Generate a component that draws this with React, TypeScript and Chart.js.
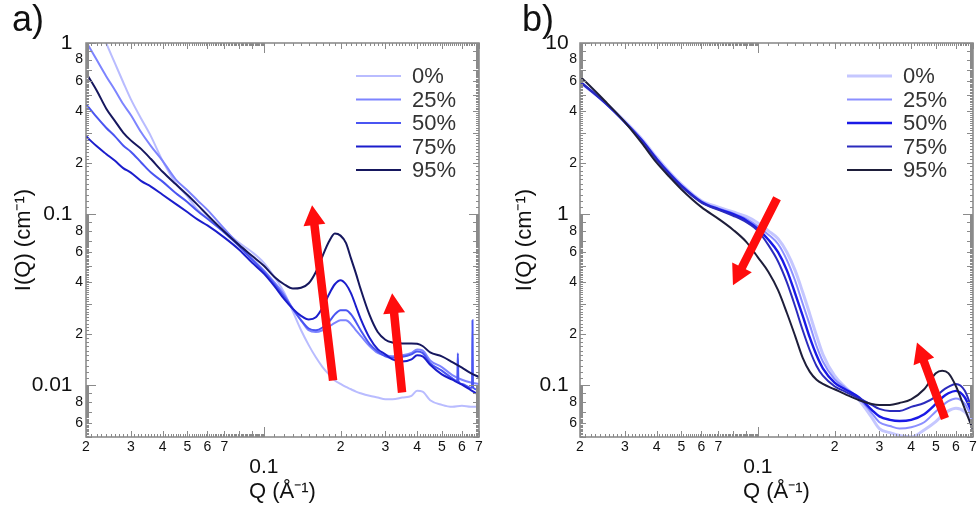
import React, { useEffect, useRef } from "react";
import { Chart, registerables } from "chart.js";
Chart.register(...registerables);

const FONT = "'Liberation Sans', Arial, Helvetica, sans-serif";
const SERIES_LABELS = ["0%", "25%", "50%", "75%", "95%"];

// ---------- Panel a) ----------
const Q_A = [0.02, 0.022, 0.024, 0.026, 0.028, 0.03, 0.033, 0.036, 0.04, 0.045, 0.05, 0.055, 0.06, 0.07, 0.08, 0.09, 0.1, 0.11, 0.12, 0.13, 0.14, 0.15, 0.16, 0.17, 0.18, 0.19, 0.2, 0.21, 0.22, 0.23, 0.24, 0.26, 0.28, 0.3, 0.32, 0.35, 0.38, 0.4, 0.42, 0.45, 0.5, 0.55, 0.6, 0.65, 0.7];
const A_0 = [1.87, 1.34, 1.0, 0.76, 0.59, 0.47, 0.36, 0.285, 0.205, 0.152, 0.127, 0.106, 0.095, 0.08, 0.068, 0.06, 0.052, 0.043, 0.035, 0.027, 0.021, 0.0172, 0.0146, 0.0128, 0.0116, 0.0107, 0.0102, 0.0098, 0.0095, 0.0092, 0.009, 0.0087, 0.0085, 0.0083, 0.0083, 0.0085, 0.0087, 0.0093, 0.0092, 0.0082, 0.0077, 0.0075, 0.0076, 0.0075, 0.0075];
const A_25 = [1.02, 0.8, 0.64, 0.53, 0.44, 0.38, 0.3, 0.25, 0.205, 0.16, 0.138, 0.12, 0.106, 0.082, 0.066, 0.055, 0.047, 0.04, 0.034, 0.028, 0.024, 0.021, 0.0205, 0.021, 0.022, 0.0232, 0.024, 0.024, 0.0228, 0.021, 0.0195, 0.017, 0.0155, 0.015, 0.0148, 0.015, 0.0155, 0.0162, 0.016, 0.014, 0.0128, 0.0115, 0.0108, 0.0104, 0.0102];
const A_50 = [0.44, 0.37, 0.32, 0.285, 0.252, 0.232, 0.2, 0.175, 0.155, 0.133, 0.118, 0.104, 0.094, 0.078, 0.065, 0.054, 0.046, 0.039, 0.033, 0.028, 0.024, 0.0215, 0.021, 0.0218, 0.0235, 0.026, 0.0275, 0.0275, 0.026, 0.0235, 0.021, 0.0175, 0.0158, 0.0148, 0.0145, 0.0147, 0.0152, 0.0158, 0.0155, 0.0135, 0.0122, 0.011, 0.0102, 0.0097, 0.0094];
const A_50_SPIKE_Q = [0.575, 0.578, 0.581, 0.657, 0.66, 0.663];
const A_50_SPIKE_I = [0.0106, 0.0154, 0.0106, 0.0097, 0.024, 0.0097];
const A_75 = [0.285, 0.25, 0.225, 0.205, 0.186, 0.175, 0.156, 0.145, 0.13, 0.115, 0.103, 0.093, 0.086, 0.073, 0.062, 0.052, 0.045, 0.038, 0.032, 0.028, 0.0255, 0.0243, 0.025, 0.0285, 0.034, 0.039, 0.0412, 0.039, 0.0345, 0.029, 0.0245, 0.019, 0.0163, 0.0152, 0.0142, 0.0138, 0.0142, 0.015, 0.0148, 0.0132, 0.0116, 0.0108, 0.0101, 0.0094, 0.0088];
const A_95 = [0.67, 0.53, 0.415, 0.35, 0.3, 0.27, 0.24, 0.21, 0.177, 0.15, 0.13, 0.113, 0.099, 0.079, 0.066, 0.057, 0.05, 0.043, 0.039, 0.0368, 0.0372, 0.0395, 0.046, 0.057, 0.069, 0.0772, 0.075, 0.068, 0.055, 0.045, 0.0365, 0.0258, 0.0205, 0.0185, 0.0178, 0.0176, 0.0176, 0.0175, 0.017, 0.0156, 0.0148, 0.0137, 0.0127, 0.0118, 0.0112];

// ---------- Panel b) ----------
const Q_B = [0.02, 0.025, 0.03, 0.035, 0.04, 0.045, 0.05, 0.06, 0.07, 0.08, 0.09, 0.1, 0.11, 0.12, 0.13, 0.14, 0.15, 0.16, 0.17, 0.18, 0.2, 0.22, 0.25, 0.28, 0.3, 0.33, 0.36, 0.4, 0.45, 0.5, 0.53, 0.56, 0.6, 0.65, 0.7];
const B_0 = [5.9, 4.5, 3.5, 2.75, 2.15, 1.76, 1.5, 1.2, 1.1, 1.03, 0.97, 0.89, 0.8, 0.72, 0.6, 0.47, 0.35, 0.26, 0.195, 0.152, 0.114, 0.098, 0.082, 0.065, 0.056, 0.053, 0.051, 0.05, 0.055, 0.0615, 0.067, 0.071, 0.0735, 0.07, 0.06];
const B_25 = [5.9, 4.5, 3.47, 2.72, 2.12, 1.74, 1.48, 1.19, 1.08, 1.01, 0.94, 0.85, 0.76, 0.67, 0.54, 0.41, 0.3, 0.225, 0.17, 0.138, 0.109, 0.097, 0.084, 0.069, 0.061, 0.058, 0.056, 0.057, 0.061, 0.0705, 0.076, 0.081, 0.084, 0.078, 0.063];
const B_50 = [5.95, 4.5, 3.45, 2.7, 2.1, 1.72, 1.47, 1.18, 1.07, 1.0, 0.92, 0.82, 0.71, 0.6, 0.47, 0.345, 0.255, 0.19, 0.15, 0.126, 0.104, 0.095, 0.085, 0.072, 0.066, 0.063, 0.062, 0.063, 0.068, 0.078, 0.085, 0.09, 0.093, 0.085, 0.067];
const B_75 = [5.95, 4.5, 3.45, 2.68, 2.08, 1.7, 1.45, 1.17, 1.06, 0.98, 0.9, 0.8, 0.66, 0.53, 0.4, 0.29, 0.21, 0.16, 0.13, 0.114, 0.099, 0.092, 0.084, 0.077, 0.073, 0.071, 0.071, 0.075, 0.079, 0.086, 0.093, 0.098, 0.102, 0.093, 0.07];
const B_95 = [6.4, 4.6, 3.45, 2.6, 2.0, 1.65, 1.4, 1.1, 0.94, 0.81, 0.69, 0.56, 0.46, 0.36, 0.265, 0.195, 0.145, 0.12, 0.108, 0.102, 0.095, 0.089, 0.082, 0.078, 0.077, 0.077, 0.079, 0.083, 0.095, 0.118, 0.122, 0.118, 0.099, 0.073, 0.055];

// ---------- Axes ----------
const X_RANGE = [0.02, 0.7];
const Y_RANGE_A = [0.005, 1];
const Y_RANGE_B = [0.05, 10];
const X_TICKS = [0.02, 0.03, 0.04, 0.05, 0.06, 0.07, 0.1, 0.2, 0.3, 0.4, 0.5, 0.6, 0.7];
const Y_TICKS_A = [0.006, 0.008, 0.01, 0.02, 0.04, 0.06, 0.08, 0.1, 0.2, 0.4, 0.6, 0.8, 1];
const Y_TICKS_B = [0.06, 0.08, 0.1, 0.2, 0.4, 0.6, 0.8, 1, 2, 4, 6, 8, 10];

// Red arrows (tail -> tip) in data coordinates (Q, I)
const ARROWS_A = [
  { from: [0.187, 0.0107], to: [0.1546, 0.113] },
  { from: [0.349, 0.0091], to: [0.319, 0.0345] },
];
const ARROWS_B = [
  { from: [0.1189, 1.24], to: [0.0798, 0.385] },
  { from: [0.543, 0.0641], to: [0.4217, 0.178] },
];

const COLORS_A = ["#b9bcff", "#7d84ff", "#4a55f2", "#1b1dcc", "#16175e"];
const COLORS_B = ["#c5c7ff", "#8b8fff", "#1a1ae6", "#2b2bbd", "#1e1e3a"];
const WIDTHS_A = [2, 2, 2, 2, 2];
const WIDTHS_B = [3, 2, 2.4, 2, 2];

function isDecade(v: any) {
  if (typeof v !== "number" || !(v > 0)) return false;
  const l = Math.log10(v);
  return Math.abs(l - Math.round(l)) < 1e-6;
}
function mantissa(v: number) {
  const e = Math.floor(Math.log10(v) + 1e-9);
  return Math.round(v / Math.pow(10, e));
}
function pts(q: number[], vals: number[]) {
  return q.map((x, i) => ({ x, y: vals[i] }));
}
function ptsMerged(q: number[], vals: number[], q2: number[], v2: number[]) {
  return pts(q, vals).concat(pts(q2, v2)).sort((a, b) => a.x - b.x);
}

function logMinorTicks(min: number, max: number) {
  const out: [number, number][] = [];
  for (let e = Math.floor(Math.log10(min)) - 1; e <= Math.ceil(Math.log10(max)); e++) {
    const d = Math.pow(10, e);
    for (let k = 10; k < 100; k++) {
      const v = (d * k) / 10;
      if (v >= min * (1 - 1e-9) && v <= max * (1 + 1e-9)) {
        out.push([v, k === 10 ? 10 : k % 10 === 0 ? 6 : 3]);
      }
    }
  }
  return out;
}

function drawArrow(ctx: CanvasRenderingContext2D, x1: number, y1: number, x2: number, y2: number, shaft: number, headW: number, headL: number) {
  const dx = x2 - x1, dy = y2 - y1;
  const L = Math.hypot(dx, dy);
  const ux = dx / L, uy = dy / L, nx = -uy, ny = ux;
  const bx = x2 - ux * headL, by = y2 - uy * headL;
  ctx.beginPath();
  ctx.moveTo(x1 + (nx * shaft) / 2, y1 + (ny * shaft) / 2);
  ctx.lineTo(bx + (nx * shaft) / 2, by + (ny * shaft) / 2);
  ctx.lineTo(bx + (nx * headW) / 2, by + (ny * headW) / 2);
  ctx.lineTo(x2, y2);
  ctx.lineTo(bx - (nx * headW) / 2, by - (ny * headW) / 2);
  ctx.lineTo(bx - (nx * shaft) / 2, by - (ny * shaft) / 2);
  ctx.lineTo(x1 - (nx * shaft) / 2, y1 - (ny * shaft) / 2);
  ctx.closePath();
  ctx.fill();
}

const decoPlugin: any = {
  id: "deco",
  afterDatasetsDraw(chart: any, _args: any, opts: any) {
    const { ctx, chartArea: ca } = chart;
    const xs = chart.scales.x, ys = chart.scales.y;
    ctx.save();
    // frame
    ctx.strokeStyle = "#858585";
    ctx.lineWidth = 1.5;
    ctx.strokeRect(ca.left, ca.top, ca.right - ca.left, ca.bottom - ca.top);
    // inward ticks on all sides
    ctx.strokeStyle = "#8a8a8a";
    ctx.lineWidth = 1;
    ctx.beginPath();
    for (const [v, len] of logMinorTicks(xs.min, xs.max)) {
      const px = Math.round(xs.getPixelForValue(v)) + 0.5;
      ctx.moveTo(px, ca.bottom);
      ctx.lineTo(px, ca.bottom - len);
      ctx.moveTo(px, ca.top);
      ctx.lineTo(px, ca.top + len);
    }
    for (const [v, len] of logMinorTicks(ys.min, ys.max)) {
      const py = Math.round(ys.getPixelForValue(v)) + 0.5;
      ctx.moveTo(ca.left, py);
      ctx.lineTo(ca.left + len, py);
      ctx.moveTo(ca.right, py);
      ctx.lineTo(ca.right - len, py);
    }
    ctx.stroke();

    // arrows
    ctx.fillStyle = "#ff0d0d";
    for (const a of opts.arrows || []) {
      drawArrow(
        ctx,
        xs.getPixelForValue(a.from[0]), ys.getPixelForValue(a.from[1]),
        xs.getPixelForValue(a.to[0]), ys.getPixelForValue(a.to[1]),
        8.5, 22, 20
      );
    }

    // legend inside plot
    const lg = opts.legend;
    ctx.font = `${lg.size}px ${FONT}`;
    ctx.textBaseline = "middle";
    ctx.textAlign = "left";
    chart.data.datasets.forEach((ds: any, i: number) => {
      const y = ca.top + lg.top + i * lg.gap;
      ctx.strokeStyle = ds.borderColor;
      ctx.lineWidth = ds.borderWidth;
      ctx.beginPath();
      ctx.moveTo(ca.right - lg.lineStart, y);
      ctx.lineTo(ca.right - lg.lineEnd, y);
      ctx.stroke();
      ctx.fillStyle = "#333333";
      ctx.fillText(ds.label, ca.right - lg.textStart, y + 1);
    });

    // panel label
    ctx.fillStyle = "#111";
    ctx.font = `36px ${FONT}`;
    ctx.textBaseline = "alphabetic";
    ctx.textAlign = "left";
    ctx.fillText(opts.panel.text, opts.panel.x, opts.panel.y);
    ctx.restore();
  },
};

function makeConfig(p: any): any {
  const datasets = p.series.map((d: any, i: number) => ({
    label: SERIES_LABELS[i],
    data: d,
    borderColor: p.colors[i],
    backgroundColor: p.colors[i],
    borderWidth: p.widths[i],
    pointRadius: 0,
    cubicInterpolationMode: "monotone",
    order: 5 - i,
    fill: false,
  }));
  return {
    type: "line",
    data: { datasets },
    plugins: [decoPlugin],
    options: {
      responsive: false,
      animation: false,
      devicePixelRatio: 1,
      layout: { padding: { top: 43, right: p.padRight, left: 0, bottom: 0 } },
      plugins: {
        legend: { display: false },
        tooltip: { enabled: false },
        deco: {
          arrows: p.arrows,
          legend: { top: 33, gap: 23.5, lineStart: p.legendX + 56, lineEnd: p.legendX + 11, textStart: p.legendX, size: 22 },
          panel: p.panel,
        },
      },
      scales: {
        x: {
          type: "logarithmic",
          min: X_RANGE[0],
          max: X_RANGE[1],
          afterBuildTicks: (s: any) => {
            s.ticks = X_TICKS.map((v) => ({ value: v }));
          },
          afterFit: (s: any) => {
            s.height = 85;
          },
          grid: { display: false, drawTicks: false },
          border: { display: false },
          ticks: {
            autoSkip: false,
            maxRotation: 0,
            minRotation: 0,
            padding: 2,
            color: "#111",
            font: (c: any) =>
              c.tick && isDecade(c.tick.value)
                ? { family: FONT, size: 21, lineHeight: 0.9 }
                : { family: FONT, size: 14, lineHeight: 1.2 },
            callback: (v: any) => (isDecade(v) ? ["", String(v)] : String(mantissa(v))),
          },
          title: {
            display: true,
            text: "Q (Å⁻¹)",
            color: "#111",
            font: { family: FONT, size: 22 },
            padding: { top: 0, bottom: 17 },
          },
        },
        y: {
          type: "logarithmic",
          min: p.yRange[0],
          max: p.yRange[1],
          afterBuildTicks: (s: any) => {
            s.ticks = p.yTicks.map((v: number) => ({ value: v }));
          },
          afterFit: (s: any) => {
            s.width = p.yWidth;
          },
          grid: { display: false, drawTicks: false },
          border: { display: false },
          ticks: {
            autoSkip: false,
            padding: 3,
            color: "#111",
            font: (c: any) =>
              c.tick && isDecade(c.tick.value)
                ? { family: FONT, size: 21 }
                : { family: FONT, size: 14 },
            callback: (v: any) => (isDecade(v) ? String(v) + p.decadePad : String(mantissa(v))),
          },
          title: {
            display: true,
            text: "I(Q) (cm⁻¹)",
            color: "#111",
            font: { family: FONT, size: 22 },
            padding: { top: p.yTitlePad, bottom: 0 },
          },
        },
      },
    },
  };
}

const PANEL_A = {
  series: [
    pts(Q_A, A_0),
    pts(Q_A, A_25),
    ptsMerged(Q_A, A_50, A_50_SPIKE_Q, A_50_SPIKE_I),
    pts(Q_A, A_75),
    pts(Q_A, A_95),
  ],
  colors: COLORS_A,
  widths: WIDTHS_A,
  yRange: Y_RANGE_A,
  yTicks: Y_TICKS_A,
  yWidth: 86,
  padRight: 11,
  yTitlePad: 11,
  decadePad: "\u2002",
  arrows: ARROWS_A,
  legendX: 67,
  panel: { text: "a)", x: 12, y: 31 },
};

const PANEL_B = {
  series: [pts(Q_B, B_0), pts(Q_B, B_25), pts(Q_B, B_50), pts(Q_B, B_75), pts(Q_B, B_95)],
  colors: COLORS_B,
  widths: WIDTHS_B,
  yRange: Y_RANGE_B,
  yTicks: Y_TICKS_B,
  yWidth: 90,
  padRight: 7,
  yTitlePad: 22,
  decadePad: "\u2009\u2009",
  arrows: ARROWS_B,
  legendX: 70,
  panel: { text: "b)", x: 32, y: 31 },
};

function Panel({ panel, left }: { panel: any; left: number }) {
  const ref = useRef<HTMLCanvasElement>(null);
  useEffect(() => {
    const chart = new Chart(ref.current as HTMLCanvasElement, makeConfig(panel));
    return () => chart.destroy();
  }, [panel]);
  return (
    <canvas
      ref={ref}
      width={490}
      height={522}
      style={{ position: "absolute", left, top: 0, width: 490, height: 522, display: "block" }}
    />
  );
}

export default function App() {
  return (
    <div style={{ position: "fixed", left: 0, top: 0, width: 980, height: 522, background: "#ffffff", overflow: "hidden" }}>
      <Panel panel={PANEL_A} left={0} />
      <Panel panel={PANEL_B} left={490} />
    </div>
  );
}
